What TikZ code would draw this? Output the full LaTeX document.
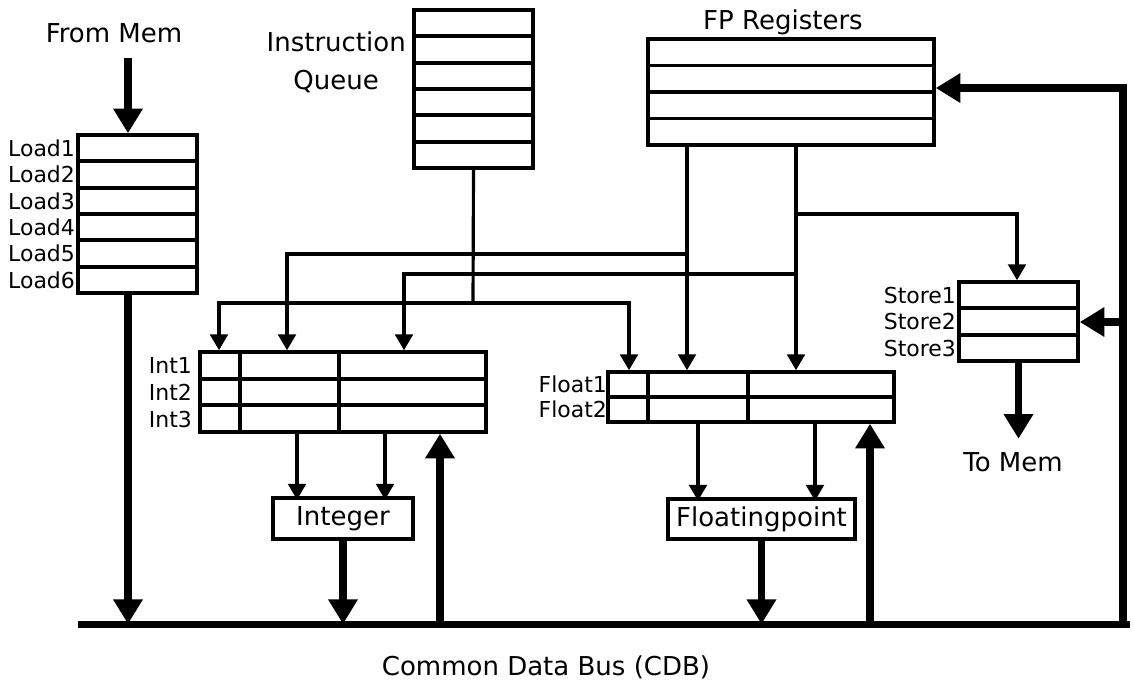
\documentclass[tikz,border=0pt]{standalone}
\usepackage{fontspec}
\setmainfont{DejaVu Sans}
\usetikzlibrary{arrows.meta, calc}
\tikzset{
  wire/.style={line width=1.8pt},
  feed/.style={wire, -{Triangle[length=9pt,width=10pt]}},
  fat/.style={line width=4.5pt, -{Triangle[length=14pt,width=16pt]}},
  bus/.style={line width=4pt},
}

\begin{document}
\begin{tikzpicture}[x=0.2mm, y=-0.2mm,
    buf/.style={draw, line width=2pt, inner sep=0pt, minimum width=2.38cm},
    wide/.style={buf, minimum width=5.72cm},
    unit/.style={draw, line width=2pt, inner sep=0pt,
                 font=\fontsize{14.8}{18}\selectfont},
    cell/.style={line width=2pt},
    title/.style={font=\fontsize{14.8}{21.5}\selectfont},
    tag/.style={font=\fontsize{12.5}{14}\selectfont, anchor=east, inner sep=1pt}]
  \useasboundingbox (0,0) rectangle (1133,683);
  % Buffers and register file
  \node[buf, minimum height=3.16cm]  (iq)    at (473.5,89)    {};
  \node[buf, minimum height=3.16cm]  (load)  at (137.5,214)   {};
  \node[wide, minimum height=2.12cm] (fpreg) at (791,92)      {};
  \node[buf, minimum height=1.58cm]  (store) at (1018.5,321.5) {};
  \node[wide, minimum height=1.6cm]  (int)   at (343,392)     {};
  \node[wide, minimum height=1cm]    (flt)   at (751,397)     {};
  % Functional units
  \node[unit, minimum width=2.8cm,  minimum height=0.82cm] (intu) at (343,518.5) {Integer};
  \node[unit, minimum width=3.74cm, minimum height=0.8cm]  (fpu)  at (761.5,519) {Floatingpoint};
  % Entries
  \draw[cell] (414,36) -- (533,36) (414,63) -- (533,63) (414,89) -- (533,89)
              (414,115) -- (533,115) (414,142) -- (533,142);
  \draw[cell] (78,161) -- (197,161) (78,188) -- (197,188) (78,214) -- (197,214)
              (78,240) -- (197,240) (78,267) -- (197,267);
  \draw[cell] (648,65.5) -- (934,65.5) (648,92) -- (934,92) (648,118.5) -- (934,118.5);
  \draw[cell] (959,308) -- (1078,308) (959,335) -- (1078,335);
  \draw[cell] (200,379) -- (486,379) (200,405) -- (486,405)
              (240,352) -- (240,432) (339,352) -- (339,432);
  \draw[cell] (608,397) -- (894,397) (648,372) -- (648,422) (748,372) -- (748,422);
  % Titles
  \node[title] (frommem) at (114,33) {From Mem};
  \node[title, align=center, anchor=east] (iqname) at (412,62) {Instruction\\Queue};
  \node[title] (fpname)  at (783,22)  {FP Registers};
  \node[title] (tomem)   at (1013,462) {To Mem};
  \node[title] (cdbname) at (546,667) {Common Data Bus (CDB)};
  % Entry names
  \node[tag] (ld1) at (77,148) {Load1};
  \node[tag] (ld2) at (77,174) {Load2};
  \node[tag] (ld3) at (77,201) {Load3};
  \node[tag] (ld4) at (77,227) {Load4};
  \node[tag] (ld5) at (77,253) {Load5};
  \node[tag] (ld6) at (77,280) {Load6};
  \node[tag] (st1) at (958,295)   {Store1};
  \node[tag] (st2) at (958,321.5) {Store2};
  \node[tag] (st3) at (958,348)   {Store3};
  \node[tag] (in1) at (194,365.5) {Int1};
  \node[tag] (in2) at (194,392)   {Int2};
  \node[tag] (in3) at (194,419)   {Int3};
  \node[tag] (fl1) at (609,384.5) {Float1};
  \node[tag] (fl2) at (609,409.5) {Float2};
  % Junctions
  \coordinate (memin) at (128,58);
  \coordinate (iqj) at (473,303);
  \coordinate (ia)  at (219,303);
  \coordinate (ib)  at (629,303);
  \coordinate (fa)  at (687,254);
  \coordinate (fa1) at (287,254);
  \coordinate (fb)  at (796,274);
  \coordinate (fb1) at (404,274);
  \coordinate (fc)  at (796,214);
  \coordinate (fc1) at (1017,214);
  \coordinate (cdbW) at (78,624);
  \coordinate (cdbE) at (1130,624);
  \coordinate (ru)  at (440,624);
  \coordinate (rf)  at (870,624);
  \coordinate (fbb) at (1123,624);
  \coordinate (fbs) at (1123,322);
  \coordinate (fbt) at (1123,88);
  % Operand paths
  \draw[wire] (iq.south) -- (iqj);
  \draw[feed] (iqj) -- (ia) -- (ia |- int.north);
  \draw[feed] (iqj) -- (ib) -- (ib |- flt.north);
  \draw[feed] (fa |- fpreg.south) -- (fa |- flt.north);
  \draw[feed] (fa) -- (fa1) -- (fa1 |- int.north);
  \draw[feed] (fb |- fpreg.south) -- (fb |- flt.north);
  \draw[feed] (fb) -- (fb1) -- (fb1 |- int.north);
  \draw[feed] (fc) -- (fc1) -- (fc1 |- store.north);
  \draw[feed] ([xshift=-0.92cm]int.south) -- ++(0,66);
  \draw[feed] ([xshift=0.84cm]int.south)  -- ++(0,66);
  \draw[feed] ([xshift=-1.06cm]flt.south) -- ++(0,77);
  \draw[feed] ([xshift=1.28cm]flt.south)  -- ++(0,77);
  % Memory, results and bus
  \draw[fat] (memin) -- (memin |- load.north);
  \draw[fat] (memin |- load.south) -- (memin |- cdbW);
  \draw[fat] (intu.south) -- (intu.south |- cdbW);
  \draw[fat] (fpu.south) -- (fpu.south |- cdbW);
  \draw[fat] (ru) -- (ru |- int.south);
  \draw[fat] (rf) -- (rf |- flt.south);
  \draw[fat] (fbb) -- (fbt) -- (fbt -| fpreg.east);
  \draw[fat] (fbs) -- (fbs -| store.east);
  \draw[fat] (store.south) -- ++(0,76);
  \draw[bus] (cdbW) -- (cdbE);
\end{tikzpicture}
\end{document}
